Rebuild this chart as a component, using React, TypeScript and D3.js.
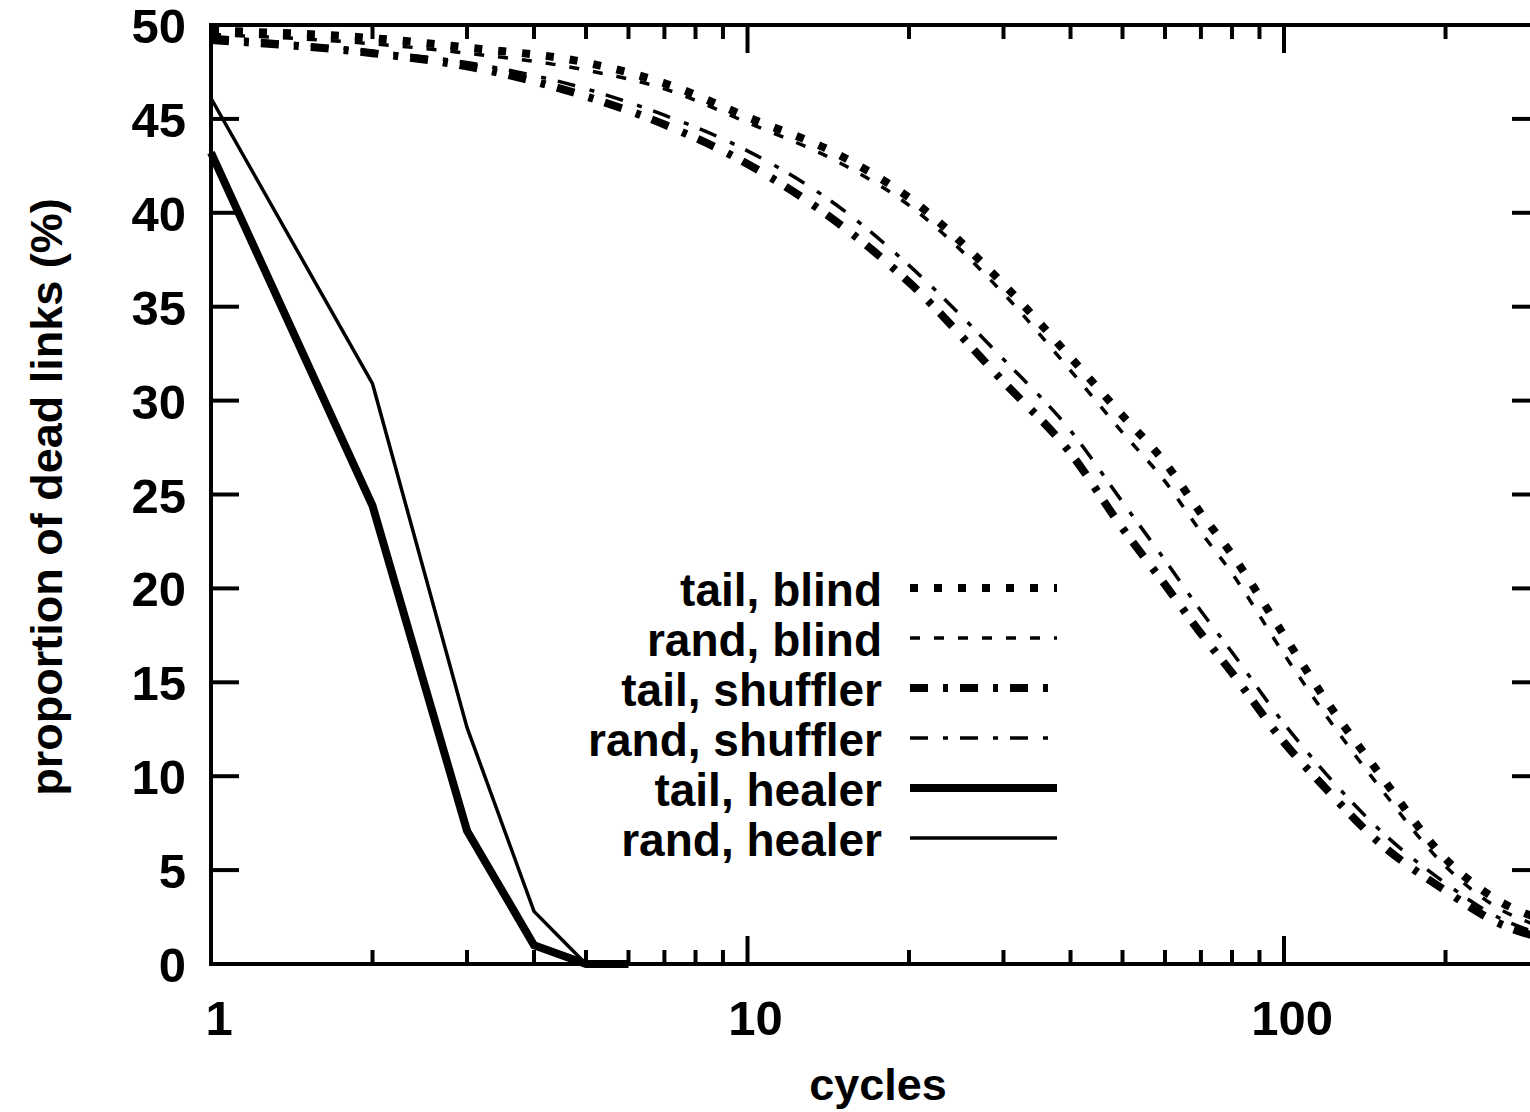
import React, { useEffect, useRef } from 'react';
import * as d3 from 'd3';

// cycles sampled for the blind / shuffler runs
const CYCLES = [1, 2, 3, 5, 7, 10, 15, 20, 30, 40, 50, 60, 70, 80, 100, 120, 150, 200, 250, 300];
const TAIL_BLIND = [49.7, 49.3, 48.8, 48.0, 46.9, 45.1, 43.0, 40.8, 36.2, 32.3, 29.2, 26.7, 24.0, 21.8, 17.5, 14.0, 10.2, 5.6, 3.4, 2.4];
const RAND_BLIND = [49.5, 49.0, 48.5, 47.6, 46.6, 44.8, 42.6, 40.4, 35.7, 31.6, 28.3, 25.7, 23.0, 20.8, 16.5, 13.2, 9.5, 5.2, 3.0, 2.0];
const TAIL_SHUFFLER = [49.2, 48.5, 47.8, 46.2, 44.7, 42.6, 39.3, 36.3, 31.0, 27.2, 23.2, 20.2, 17.6, 15.5, 11.8, 9.3, 6.5, 3.9, 2.2, 1.4];
const RAND_SHUFFLER = [49.4, 48.6, 48.0, 46.6, 45.2, 43.3, 40.2, 37.2, 32.2, 28.4, 24.6, 21.5, 18.8, 16.6, 12.8, 10.1, 7.2, 4.3, 2.5, 1.6];

// healer runs die out after a few cycles
const TAIL_HEALER_CYCLES = [1, 2, 3, 4, 5, 6];
const TAIL_HEALER = [43.2, 24.4, 7.1, 1.0, 0, 0];
const RAND_HEALER_CYCLES = [1, 2, 3, 4, 5];
const RAND_HEALER = [46.1, 30.9, 12.6, 2.8, 0];

const Y_TICKS = [0, 5, 10, 15, 20, 25, 30, 35, 40, 45, 50];
const X_MAJOR_TICKS = [1, 10, 100];
const X_MINOR_TICKS = [2, 3, 4, 5, 6, 7, 8, 9, 20, 30, 40, 50, 60, 70, 80, 90, 200, 300];

const SERIES = [
  { name: 'tail, blind', xs: CYCLES, ys: TAIL_BLIND, width: 8, dash: '8,16' },
  { name: 'rand, blind', xs: CYCLES, ys: RAND_BLIND, width: 3.5, dash: '10,14' },
  { name: 'tail, shuffler', xs: CYCLES, ys: TAIL_SHUFFLER, width: 8, dash: '18,15,5,12' },
  { name: 'rand, shuffler', xs: CYCLES, ys: RAND_SHUFFLER, width: 3.5, dash: '18,15,5,12' },
  { name: 'tail, healer', xs: TAIL_HEALER_CYCLES, ys: TAIL_HEALER, width: 8, dash: null },
  { name: 'rand, healer', xs: RAND_HEALER_CYCLES, ys: RAND_HEALER, width: 3.5, dash: null },
];

const FONT = '"Liberation Sans", Arial, Helvetica, sans-serif';

const App = () => {
  const ref = useRef<SVGSVGElement>(null);

  useEffect(() => {
    const width = 1530;
    const height = 1112;
    const margin = { top: 25, right: -10, bottom: 148, left: 211 };
    const innerW = width - margin.left - margin.right;
    const innerH = height - margin.top - margin.bottom;

    const svg = d3.select(ref.current);
    svg.selectAll('*').remove();

    const x = d3.scaleLog().domain([1, 300]).range([0, innerW]);
    const y = d3.scaleLinear().domain([0, 50]).range([innerH, 0]);

    const g = svg.append('g').attr('transform', `translate(${margin.left},${margin.top})`);

    g.append('defs').append('clipPath').attr('id', 'plot-clip')
      .append('rect').attr('x', -6).attr('y', -6).attr('width', innerW + 12).attr('height', innerH + 12);

    // ticks, inward on all four sides
    const tickStroke = 4;
    Y_TICKS.forEach(v => {
      g.append('line').attr('x1', 0).attr('x2', 28).attr('y1', y(v)).attr('y2', y(v))
        .attr('stroke', '#000').attr('stroke-width', tickStroke);
      g.append('line').attr('x1', innerW).attr('x2', innerW - 28).attr('y1', y(v)).attr('y2', y(v))
        .attr('stroke', '#000').attr('stroke-width', tickStroke);
      g.append('text')
        .attr('x', -25).attr('y', y(v) + 18)
        .attr('text-anchor', 'end')
        .style('font-family', FONT).style('font-weight', 'bold').style('font-size', '49px')
        .text(v);
    });

    const xTick = (v: number, len: number) => {
      g.append('line').attr('x1', x(v)).attr('x2', x(v)).attr('y1', innerH).attr('y2', innerH - len)
        .attr('stroke', '#000').attr('stroke-width', tickStroke);
      g.append('line').attr('x1', x(v)).attr('x2', x(v)).attr('y1', 0).attr('y2', len)
        .attr('stroke', '#000').attr('stroke-width', tickStroke);
    };
    X_MAJOR_TICKS.forEach(v => {
      xTick(v, 28);
      g.append('text')
        .attr('x', x(v) + 8).attr('y', innerH + 71)
        .attr('text-anchor', 'middle')
        .style('font-family', FONT).style('font-weight', 'bold').style('font-size', '49px')
        .text(v);
    });
    X_MINOR_TICKS.forEach(v => xTick(v, 14));

    // series
    const plot = g.append('g').attr('clip-path', 'url(#plot-clip)');
    SERIES.forEach(s => {
      const pts = s.xs.map((c, i) => [c, s.ys[i]] as [number, number]);
      const line = d3.line<[number, number]>()
        .x(d => x(d[0]))
        .y(d => y(d[1]))
        .curve(s.dash ? d3.curveMonotoneX : d3.curveLinear);
      plot.append('path')
        .datum(pts)
        .attr('d', line)
        .attr('fill', 'none')
        .attr('stroke', '#000')
        .attr('stroke-width', s.width)
        .attr('stroke-linejoin', 'miter')
        .attr('stroke-dasharray', s.dash);
    });

    // border
    g.append('rect').attr('x', 0).attr('y', 0).attr('width', innerW).attr('height', innerH)
      .attr('fill', 'none').attr('stroke', '#000').attr('stroke-width', 4);

    // legend, labels right-aligned against the line samples
    const legend = svg.append('g').attr('transform', 'translate(882,588)');
    SERIES.forEach((s, i) => {
      const row = legend.append('g').attr('transform', `translate(0,${i * 50})`);
      row.append('text')
        .attr('x', 0).attr('y', 18)
        .attr('text-anchor', 'end')
        .style('font-family', FONT).style('font-weight', 'bold').style('font-size', '46px')
        .text(s.name);
      row.append('line')
        .attr('x1', 28).attr('x2', 175).attr('y1', 0).attr('y2', 0)
        .attr('stroke', '#000').attr('stroke-width', s.width)
        .attr('stroke-dasharray', s.dash);
    });

    // axis labels
    svg.append('text')
      .attr('transform', 'translate(62,497) rotate(-90)')
      .attr('text-anchor', 'middle')
      .style('font-family', FONT).style('font-weight', 'bold').style('font-size', '45px')
      .text('proportion of dead links (%)');

    svg.append('text')
      .attr('x', 878).attr('y', 1100)
      .attr('text-anchor', 'middle')
      .style('font-family', FONT).style('font-weight', 'bold').style('font-size', '45px')
      .text('cycles');
  }, []);

  return (
    <svg ref={ref} width={1530} height={1112}
      style={{ position: 'absolute', left: 0, top: 0, background: '#fff' }} />
  );
};

export default App;
